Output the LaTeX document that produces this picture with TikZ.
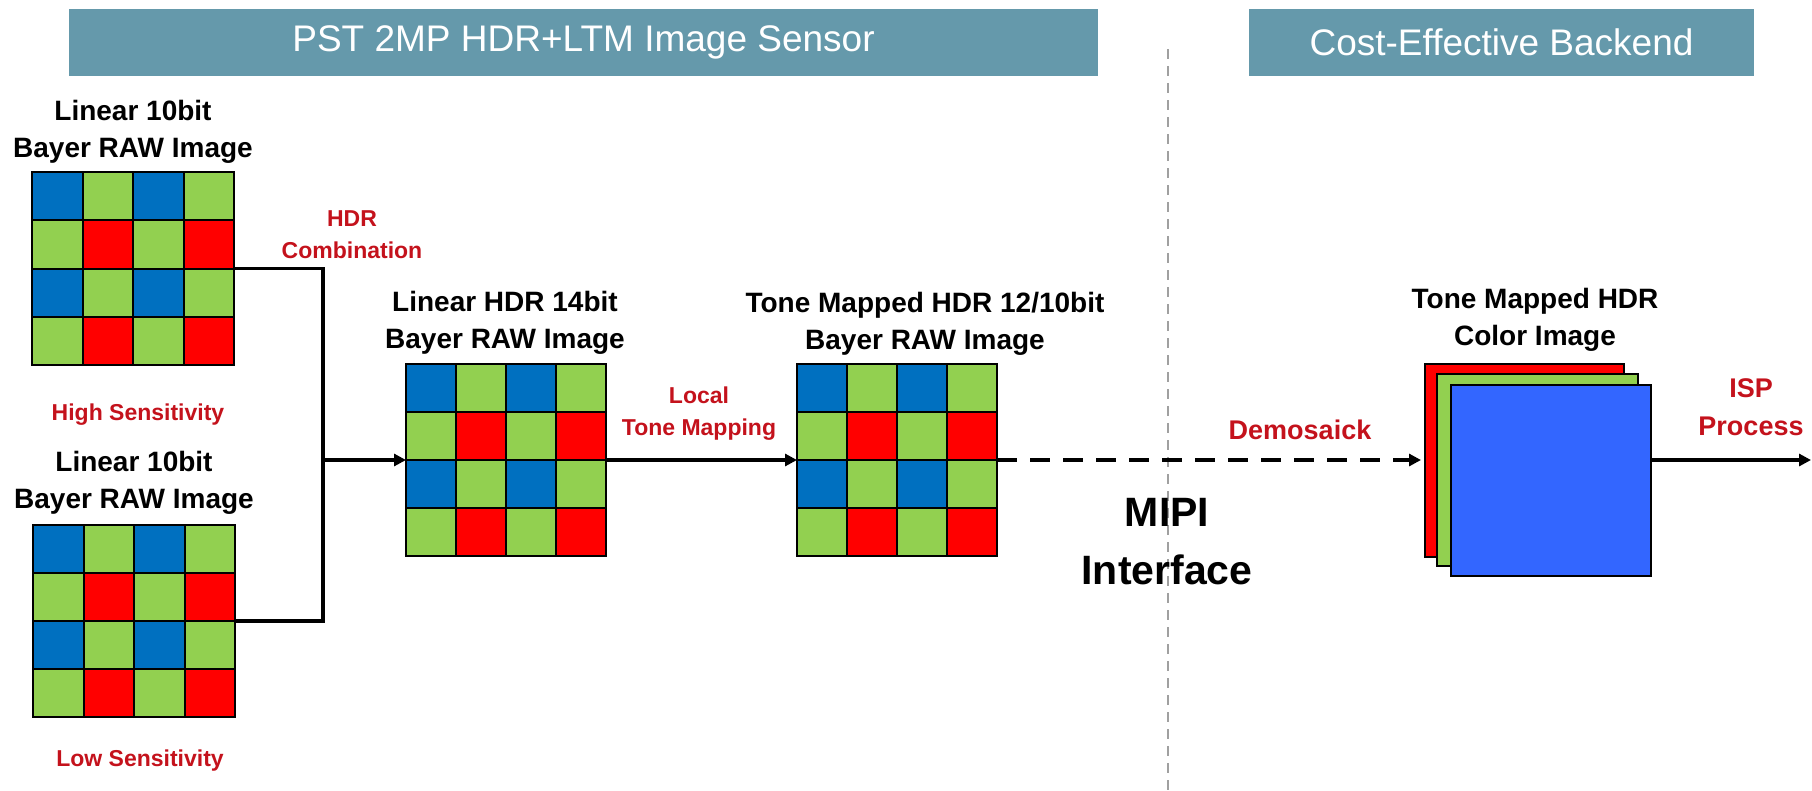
\documentclass[tikz,border=0pt]{standalone}
\usepackage{fontspec}
\setmainfont{Liberation Sans}
\usetikzlibrary{arrows.meta}
\definecolor{bannercol}{RGB}{101,153,171}
\definecolor{redtxt}{RGB}{196,18,28}
\definecolor{bblue}{RGB}{0,112,192}
\definecolor{bgreen}{RGB}{146,208,80}
\definecolor{bred}{RGB}{255,0,0}
\definecolor{sblue}{RGB}{51,102,255}
\definecolor{sepgray}{RGB}{160,160,160}
\tikzset{
  lbl/.style={font=\bfseries\fontsize{28}{37}\selectfont, align=center, text=black, inner sep=0pt},
  rlbl/.style={font=\bfseries\fontsize{23}{32}\selectfont, align=center, text=redtxt, inner sep=0pt},
  rlblbig/.style={font=\bfseries\fontsize{27}{38}\selectfont, align=center, text=redtxt, inner sep=0pt},
  banner/.style={fill=bannercol, text=white, inner sep=0pt, minimum height=67pt, font=\fontsize{37}{40}\selectfont},
  cellbox/.style={draw=black, line width=2pt},
  conn/.style={line width=3.5pt, line join=miter, -{Triangle[length=12pt,width=12pt]}},
  plainconn/.style={line width=3.5pt, line join=miter},
  dconn/.style={line width=4pt, dash pattern=on 20pt off 13pt, -{Triangle[length=12pt,width=12pt]}},
  sepline/.style={draw=sepgray, line width=1.5pt, dash pattern=on 10pt off 7pt},
  plane/.style={draw=black, line width=2pt, inner sep=0pt, anchor=north west},
}
\newcommand{\bayergrid}[5]{%
  \foreach \r in {0,...,3}{%
    \foreach \c in {0,...,3}{%
      \pgfmathtruncatemacro{\k}{mod(\r,2)*2+mod(\c,2)}%
      \ifcase\k\def\cc{bblue}\or\def\cc{bgreen}\or\def\cc{bgreen}\or\def\cc{bred}\fi
      \filldraw[cellbox, fill=\cc] ({#2+\c*#4/4},{#3+\r*#5/4}) rectangle ++({#4/4},{#5/4});
    }%
  }%
  \node[inner sep=0pt, minimum width=#4pt, minimum height=#5pt, anchor=north west] (#1) at (#2,#3) {};
}
\begin{document}
\begin{tikzpicture}[x=1pt,y=-1pt]
\useasboundingbox (0,0) rectangle (1812,790);

% banners
\node[banner, minimum width=1029pt] (ban1) at (583.5,42.5) {PST 2MP HDR+LTM Image Sensor};
\node[banner, minimum width=505pt] (ban2) at (1501.5,42.5) {Cost-Effective Backend};

% separator
\coordinate (septop) at (1168,49);
\coordinate (sepbot) at (1168,790);
\draw[sepline] (septop) -- (sepbot);

% grids
\bayergrid{g1}{32}{172}{202}{193}
\bayergrid{g2}{33}{525}{202}{192}
\bayergrid{g3}{406}{364}{200}{192}
\bayergrid{g4}{797}{364}{200}{192}

% colour planes
\node[plane, fill=bred, minimum width=199pt, minimum height=193pt] (pr) at (1424,363) {};
\node[plane, fill=bgreen, minimum width=201pt, minimum height=192pt] (pg) at (1436,373) {};
\node[plane, fill=sblue, minimum width=200pt, minimum height=191pt] (pb) at (1450,384) {};

% labels
\node[lbl] (t1) at (133,132) {Linear 10bit\\Bayer RAW Image};
\node[lbl] (t2) at (134,483) {Linear 10bit\\Bayer RAW Image};
\node[rlbl] (hs) at (138,415) {High Sensitivity};
\node[rlbl] (ls) at (140,761) {Low Sensitivity};
\node[rlbl] (hdr) at (352,235) {HDR\\Combination};
\node[lbl] (t3) at (505,323) {Linear HDR 14bit\\Bayer RAW Image};
\node[rlbl] (ltm) at (699,414) {Local\\Tone Mapping};
\node[lbl] (t4) at (925,324) {Tone Mapped HDR 12/10bit\\Bayer RAW Image};
\node[font=\bfseries\fontsize{41}{58}\selectfont, align=center, inner sep=0pt] (mipi) at (1167,542) {MIPI\\Interface};
\node[rlblbig] (demo) at (1300,430) {Demosaick};
\node[lbl] (t5) at (1535,320) {Tone Mapped HDR\\Color Image};
\node[rlblbig] (isp) at (1751,407) {ISP\\Process};

% connectors
\coordinate (j) at (323,460);
\coordinate (out) at (1811,460);
\draw[plainconn] (g1.east) -| (j) |- (g2.east);
\draw[conn] (j) -- (g3.west |- j);
\draw[conn] (g3.east |- j) -- (g4.west |- j);
\draw[dconn] (g4.east |- j) -- ([xshift=-3pt]pr.west |- j);
\draw[conn] (pb.east |- j) -- (out);
\end{tikzpicture}
\end{document}
